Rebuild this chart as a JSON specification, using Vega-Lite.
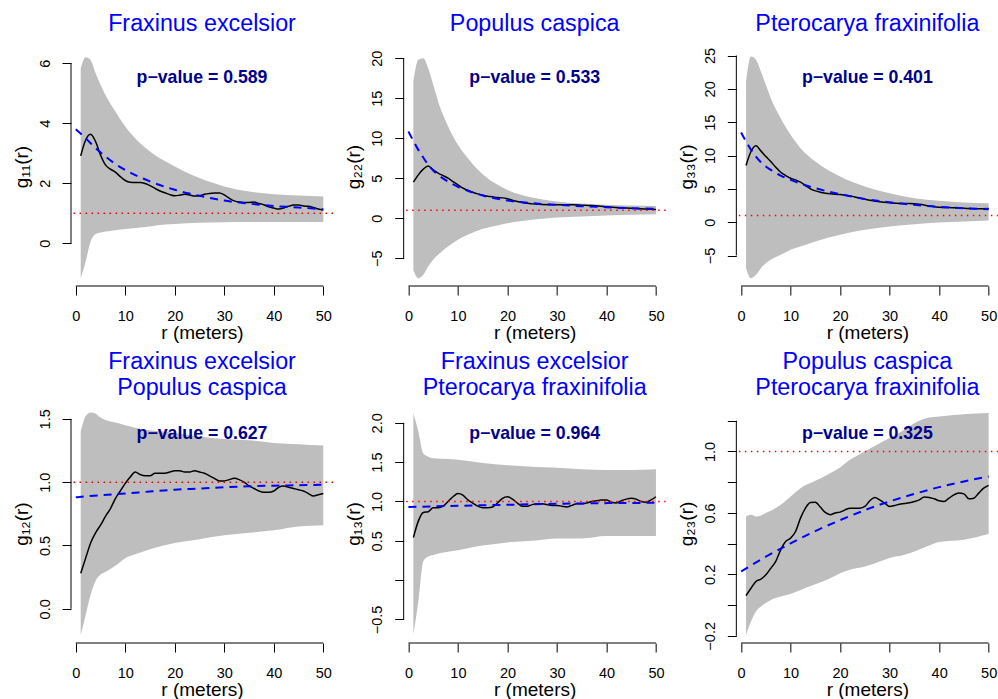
{
  "$schema": "https://vega.github.io/schema/vega-lite/v6.json",
  "padding": {"left": 12, "top": 11, "right": 0, "bottom": 0},
  "background": "white",
  "columns": 3,
  "spacing": {"row": 118, "column": 70.67},
  "bounds": "flush",
  "datasets": {
    "e1": [{"r":1,"lo":-1.17,"hi":5.83},{"r":2,"lo":-0.61,"hi":6.2},{"r":3,"lo":0.06,"hi":6.11},{"r":4,"lo":0.31,"hi":5.67},{"r":5,"lo":0.36,"hi":5.28},{"r":6,"lo":0.39,"hi":4.94},{"r":7,"lo":0.41,"hi":4.65},{"r":8,"lo":0.43,"hi":4.39},{"r":10,"lo":0.47,"hi":3.89},{"r":12,"lo":0.51,"hi":3.5},{"r":15,"lo":0.56,"hi":3.06},{"r":18,"lo":0.62,"hi":2.74},{"r":20,"lo":0.64,"hi":2.56},{"r":25,"lo":0.68,"hi":2.17},{"r":30,"lo":0.7,"hi":1.89},{"r":35,"lo":0.71,"hi":1.72},{"r":40,"lo":0.71,"hi":1.63},{"r":45,"lo":0.71,"hi":1.59},{"r":50,"lo":0.71,"hi":1.56}],
    "o1": [{"r":1,"g":2.91},{"r":2,"g":3.44},{"r":3,"g":3.63},{"r":4,"g":3.39},{"r":5,"g":2.94},{"r":6,"g":2.61},{"r":7,"g":2.47},{"r":8,"g":2.37},{"r":9,"g":2.22},{"r":10,"g":2.09},{"r":11,"g":2.03},{"r":12,"g":2.02},{"r":13,"g":2.02},{"r":14,"g":1.99},{"r":15,"g":1.92},{"r":16,"g":1.83},{"r":17,"g":1.74},{"r":18,"g":1.68},{"r":19,"g":1.62},{"r":20,"g":1.58},{"r":21,"g":1.6},{"r":22,"g":1.63},{"r":23,"g":1.61},{"r":24,"g":1.57},{"r":25,"g":1.58},{"r":26,"g":1.63},{"r":27,"g":1.66},{"r":28,"g":1.67},{"r":29,"g":1.67},{"r":30,"g":1.61},{"r":31,"g":1.5},{"r":32,"g":1.41},{"r":33,"g":1.37},{"r":34,"g":1.36},{"r":35,"g":1.36},{"r":36,"g":1.37},{"r":37,"g":1.32},{"r":38,"g":1.28},{"r":39,"g":1.21},{"r":40,"g":1.17},{"r":41,"g":1.14},{"r":42,"g":1.17},{"r":43,"g":1.23},{"r":44,"g":1.27},{"r":45,"g":1.27},{"r":46,"g":1.24},{"r":47,"g":1.23},{"r":48,"g":1.19},{"r":49,"g":1.14},{"r":50,"g":1.11}],
    "f1": [{"r":0,"g":3.8},{"r":2,"g":3.5},{"r":4,"g":3.17},{"r":6,"g":2.89},{"r":8,"g":2.64},{"r":10,"g":2.44},{"r":15,"g":2.06},{"r":20,"g":1.78},{"r":25,"g":1.58},{"r":30,"g":1.42},{"r":35,"g":1.32},{"r":40,"g":1.24},{"r":45,"g":1.19},{"r":50,"g":1.13}],
    "e2": [{"r":1,"lo":-6.46,"hi":17.1},{"r":2,"lo":-7.5,"hi":19.8},{"r":3,"lo":-7.08,"hi":20.0},{"r":4,"lo":-6.04,"hi":18.75},{"r":5,"lo":-5.2,"hi":16.7},{"r":6,"lo":-4.58,"hi":14.6},{"r":7,"lo":-4.0,"hi":12.9},{"r":8,"lo":-3.54,"hi":11.5},{"r":10,"lo":-2.7,"hi":9.17},{"r":12,"lo":-2.08,"hi":7.5},{"r":15,"lo":-1.33,"hi":5.5},{"r":18,"lo":-0.9,"hi":4.17},{"r":20,"lo":-0.63,"hi":3.54},{"r":25,"lo":-0.2,"hi":2.58},{"r":30,"lo":0.08,"hi":2.08},{"r":35,"lo":0.2,"hi":1.83},{"r":40,"lo":0.33,"hi":1.67},{"r":45,"lo":0.42,"hi":1.58},{"r":50,"lo":0.5,"hi":1.54}],
    "o2": [{"r":1,"g":4.5},{"r":2,"g":5.42},{"r":3,"g":6.13},{"r":4,"g":6.54},{"r":5,"g":6.04},{"r":6,"g":5.63},{"r":7,"g":5.33},{"r":8,"g":5.0},{"r":9,"g":4.58},{"r":10,"g":4.17},{"r":11,"g":3.75},{"r":12,"g":3.5},{"r":13,"g":3.25},{"r":14,"g":3.04},{"r":15,"g":2.88},{"r":16,"g":2.75},{"r":17,"g":2.67},{"r":18,"g":2.58},{"r":19,"g":2.54},{"r":20,"g":2.42},{"r":21,"g":2.25},{"r":22,"g":2.08},{"r":23,"g":1.96},{"r":24,"g":1.88},{"r":25,"g":1.79},{"r":27,"g":1.71},{"r":30,"g":1.67},{"r":33,"g":1.67},{"r":35,"g":1.63},{"r":37,"g":1.58},{"r":40,"g":1.42},{"r":43,"g":1.29},{"r":45,"g":1.25},{"r":47,"g":1.17},{"r":50,"g":1.08}],
    "f2": [{"r":0,"g":10.83},{"r":1,"g":9.67},{"r":2,"g":8.54},{"r":3,"g":7.58},{"r":4,"g":6.67},{"r":5,"g":5.96},{"r":6,"g":5.42},{"r":8,"g":4.58},{"r":10,"g":3.92},{"r":12,"g":3.42},{"r":15,"g":2.83},{"r":20,"g":2.21},{"r":25,"g":1.88},{"r":30,"g":1.67},{"r":35,"g":1.5},{"r":40,"g":1.38},{"r":45,"g":1.25},{"r":50,"g":1.17}],
    "e3": [{"r":1,"lo":-6.9,"hi":21.1},{"r":2,"lo":-8.4,"hi":24.85},{"r":3,"lo":-7.9,"hi":24.35},{"r":4,"lo":-6.9,"hi":22.6},{"r":5,"lo":-6.15,"hi":20.6},{"r":6,"lo":-5.65,"hi":18.6},{"r":8,"lo":-4.9,"hi":15.6},{"r":10,"lo":-4.15,"hi":13.1},{"r":12,"lo":-3.65,"hi":11.1},{"r":15,"lo":-2.9,"hi":9.1},{"r":20,"lo":-1.9,"hi":6.85},{"r":25,"lo":-1.15,"hi":5.35},{"r":30,"lo":-0.65,"hi":4.35},{"r":35,"lo":-0.3,"hi":3.6},{"r":40,"lo":-0.05,"hi":3.2},{"r":45,"lo":0.1,"hi":2.95},{"r":50,"lo":0.25,"hi":2.85}],
    "o3": [{"r":1,"g":8.5},{"r":2,"g":10.6},{"r":3,"g":11.45},{"r":4,"g":10.7},{"r":5,"g":9.85},{"r":6,"g":9.1},{"r":7,"g":8.25},{"r":8,"g":7.5},{"r":9,"g":7.0},{"r":10,"g":6.6},{"r":11,"g":6.35},{"r":12,"g":6.0},{"r":13,"g":5.5},{"r":14,"g":5.0},{"r":15,"g":4.7},{"r":16,"g":4.5},{"r":17,"g":4.35},{"r":18,"g":4.25},{"r":20,"g":4.15},{"r":22,"g":3.95},{"r":24,"g":3.6},{"r":26,"g":3.3},{"r":28,"g":3.05},{"r":30,"g":2.9},{"r":32,"g":2.8},{"r":34,"g":2.8},{"r":36,"g":2.7},{"r":38,"g":2.45},{"r":40,"g":2.25},{"r":42,"g":2.2},{"r":44,"g":2.15},{"r":46,"g":2.05},{"r":48,"g":2.0},{"r":50,"g":2.05}],
    "f3": [{"r":0,"g":13.45},{"r":1,"g":12.1},{"r":2,"g":10.85},{"r":3,"g":9.85},{"r":4,"g":9.0},{"r":5,"g":8.35},{"r":6,"g":7.85},{"r":8,"g":7.0},{"r":10,"g":6.35},{"r":12,"g":5.8},{"r":15,"g":5.1},{"r":20,"g":4.2},{"r":25,"g":3.5},{"r":30,"g":3.0},{"r":35,"g":2.6},{"r":40,"g":2.3},{"r":45,"g":2.1},{"r":50,"g":1.95}],
    "e4": [{"r":1,"lo":-0.205,"hi":1.4},{"r":2,"lo":-0.05,"hi":1.52},{"r":3,"lo":0.11,"hi":1.55},{"r":4,"lo":0.22,"hi":1.54},{"r":5,"lo":0.27,"hi":1.51},{"r":6,"lo":0.29,"hi":1.49},{"r":8,"lo":0.34,"hi":1.47},{"r":10,"lo":0.4,"hi":1.45},{"r":12,"lo":0.43,"hi":1.43},{"r":15,"lo":0.47,"hi":1.41},{"r":20,"lo":0.52,"hi":1.39},{"r":25,"lo":0.55,"hi":1.36},{"r":30,"lo":0.58,"hi":1.34},{"r":35,"lo":0.6,"hi":1.33},{"r":40,"lo":0.62,"hi":1.31},{"r":45,"lo":0.65,"hi":1.3},{"r":50,"lo":0.66,"hi":1.29}],
    "o4": [{"r":1,"g":0.28},{"r":2,"g":0.4},{"r":3,"g":0.52},{"r":4,"g":0.6},{"r":5,"g":0.66},{"r":6,"g":0.73},{"r":7,"g":0.79},{"r":8,"g":0.87},{"r":9,"g":0.93},{"r":10,"g":0.99},{"r":11,"g":1.04},{"r":12,"g":1.08},{"r":13,"g":1.06},{"r":14,"g":1.05},{"r":15,"g":1.05},{"r":16,"g":1.07},{"r":17,"g":1.07},{"r":18,"g":1.07},{"r":19,"g":1.08},{"r":20,"g":1.09},{"r":21,"g":1.09},{"r":22,"g":1.08},{"r":23,"g":1.08},{"r":24,"g":1.09},{"r":25,"g":1.08},{"r":26,"g":1.07},{"r":27,"g":1.05},{"r":28,"g":1.03},{"r":29,"g":1.01},{"r":30,"g":1.01},{"r":31,"g":1.02},{"r":32,"g":1.03},{"r":33,"g":1.02},{"r":34,"g":1.0},{"r":35,"g":0.97},{"r":36,"g":0.95},{"r":37,"g":0.93},{"r":38,"g":0.92},{"r":39,"g":0.92},{"r":40,"g":0.93},{"r":41,"g":0.96},{"r":42,"g":0.97},{"r":43,"g":0.96},{"r":44,"g":0.95},{"r":45,"g":0.94},{"r":46,"g":0.93},{"r":47,"g":0.91},{"r":48,"g":0.89},{"r":49,"g":0.9},{"r":50,"g":0.91}],
    "f4": [{"r":0,"g":0.88},{"r":5,"g":0.897},{"r":10,"g":0.91},{"r":15,"g":0.926},{"r":20,"g":0.94},{"r":25,"g":0.95},{"r":30,"g":0.96},{"r":35,"g":0.968},{"r":40,"g":0.972},{"r":45,"g":0.976},{"r":50,"g":0.98}],
    "e5": [{"r":1,"lo":-0.69,"hi":2.12},{"r":2,"lo":-0.27,"hi":1.89},{"r":3,"lo":0.24,"hi":1.61},{"r":4,"lo":0.3,"hi":1.57},{"r":5,"lo":0.32,"hi":1.55},{"r":8,"lo":0.36,"hi":1.54},{"r":10,"lo":0.38,"hi":1.53},{"r":15,"lo":0.44,"hi":1.49},{"r":20,"lo":0.48,"hi":1.46},{"r":25,"lo":0.5,"hi":1.44},{"r":30,"lo":0.53,"hi":1.43},{"r":35,"lo":0.53,"hi":1.41},{"r":40,"lo":0.56,"hi":1.4},{"r":45,"lo":0.56,"hi":1.4},{"r":50,"lo":0.56,"hi":1.41}],
    "o5": [{"r":1,"g":0.54},{"r":2,"g":0.75},{"r":3,"g":0.86},{"r":4,"g":0.87},{"r":5,"g":0.92},{"r":6,"g":0.92},{"r":7,"g":0.94},{"r":8,"g":1.0},{"r":9,"g":1.06},{"r":10,"g":1.1},{"r":11,"g":1.08},{"r":12,"g":1.02},{"r":13,"g":0.98},{"r":14,"g":0.94},{"r":15,"g":0.92},{"r":16,"g":0.92},{"r":17,"g":0.93},{"r":18,"g":0.98},{"r":19,"g":1.04},{"r":20,"g":1.06},{"r":21,"g":1.03},{"r":22,"g":0.98},{"r":23,"g":0.94},{"r":24,"g":0.94},{"r":25,"g":0.96},{"r":26,"g":0.97},{"r":27,"g":0.97},{"r":28,"g":0.96},{"r":29,"g":0.95},{"r":30,"g":0.95},{"r":31,"g":0.94},{"r":32,"g":0.93},{"r":33,"g":0.95},{"r":34,"g":0.97},{"r":35,"g":0.97},{"r":36,"g":0.98},{"r":37,"g":1.0},{"r":38,"g":1.01},{"r":39,"g":1.02},{"r":40,"g":1.02},{"r":41,"g":0.99},{"r":42,"g":0.98},{"r":43,"g":1.01},{"r":44,"g":1.03},{"r":45,"g":1.04},{"r":46,"g":1.03},{"r":47,"g":1.0},{"r":48,"g":0.99},{"r":49,"g":1.02},{"r":50,"g":1.06}],
    "f5": [{"r":0,"g":0.93},{"r":10,"g":0.945},{"r":20,"g":0.958},{"r":30,"g":0.97},{"r":40,"g":0.979},{"r":50,"g":0.983}],
    "e6": [{"r":1,"lo":-0.194,"hi":0.577},{"r":2,"lo":-0.107,"hi":0.588},{"r":3,"lo":-0.042,"hi":0.577},{"r":4,"lo":-0.009,"hi":0.583},{"r":5,"lo":0.013,"hi":0.6},{"r":6,"lo":0.034,"hi":0.614},{"r":8,"lo":0.056,"hi":0.653},{"r":10,"lo":0.073,"hi":0.707},{"r":12,"lo":0.099,"hi":0.761},{"r":15,"lo":0.136,"hi":0.809},{"r":18,"lo":0.175,"hi":0.859},{"r":20,"lo":0.208,"hi":0.896},{"r":22,"lo":0.23,"hi":0.946},{"r":25,"lo":0.251,"hi":1.0},{"r":28,"lo":0.284,"hi":1.054},{"r":30,"lo":0.306,"hi":1.087},{"r":33,"lo":0.327,"hi":1.141},{"r":35,"lo":0.349,"hi":1.184},{"r":38,"lo":0.388,"hi":1.221},{"r":40,"lo":0.41,"hi":1.228},{"r":45,"lo":0.425,"hi":1.243},{"r":50,"lo":0.462,"hi":1.25}],
    "o6": [{"r":1,"g":0.062},{"r":2,"g":0.11},{"r":3,"g":0.154},{"r":4,"g":0.169},{"r":5,"g":0.197},{"r":6,"g":0.24},{"r":7,"g":0.284},{"r":8,"g":0.36},{"r":9,"g":0.414},{"r":10,"g":0.436},{"r":11,"g":0.479},{"r":12,"g":0.566},{"r":13,"g":0.631},{"r":14,"g":0.668},{"r":15,"g":0.67},{"r":16,"g":0.638},{"r":17,"g":0.603},{"r":18,"g":0.588},{"r":19,"g":0.6},{"r":20,"g":0.605},{"r":21,"g":0.62},{"r":22,"g":0.631},{"r":23,"g":0.631},{"r":24,"g":0.631},{"r":25,"g":0.642},{"r":26,"g":0.679},{"r":27,"g":0.701},{"r":28,"g":0.685},{"r":29,"g":0.664},{"r":30,"g":0.642},{"r":31,"g":0.648},{"r":32,"g":0.657},{"r":33,"g":0.661},{"r":34,"g":0.666},{"r":35,"g":0.674},{"r":36,"g":0.685},{"r":37,"g":0.703},{"r":38,"g":0.701},{"r":39,"g":0.692},{"r":40,"g":0.679},{"r":41,"g":0.674},{"r":42,"g":0.696},{"r":43,"g":0.718},{"r":44,"g":0.729},{"r":45,"g":0.724},{"r":46,"g":0.692},{"r":47,"g":0.696},{"r":48,"g":0.729},{"r":49,"g":0.761},{"r":50,"g":0.779}],
    "f6": [{"r":0,"g":0.219},{"r":5,"g":0.315},{"r":10,"g":0.402},{"r":15,"g":0.482},{"r":20,"g":0.553},{"r":25,"g":0.618},{"r":30,"g":0.675},{"r":35,"g":0.724},{"r":40,"g":0.768},{"r":45,"g":0.805},{"r":50,"g":0.837}]
  },
  "concat": [
    {
      "width": 262, "height": 239,
      "title": {"text": "Fraxinus excelsior", "offset": 11.2},
      "layer": [
        {"data": {"name": "e1"}, "mark": {"type": "area", "color": "#BEBEBE", "interpolate": "monotone"},
         "encoding": {
           "x": {"field": "r", "type": "quantitative", "scale": {"domain": [-0.96, 51.96], "nice": false, "zero": false}, "axis": {"values": [0,10,20,30,40,50], "tickCount": 50, "format": "d", "title": "r (meters)", "titleFontWeight": "normal", "labelOverlap": false}},
           "y": {"field": "lo", "type": "quantitative", "scale": {"domain": [-1.427, 6.54], "nice": false, "zero": false}, "axis": {"values": [0,2,4,6], "tickCount": 50, "format": "d", "title": "g₁₁(r)", "titleFontWeight": "normal", "labelOverlap": false}},
           "y2": {"field": "hi"}}},
        {"data": {"name": "o1"}, "mark": {"type": "line", "color": "#000000", "strokeWidth": 1.5, "interpolate": "monotone"},
         "encoding": {"x": {"field": "r", "type": "quantitative"}, "y": {"field": "g", "type": "quantitative"}}},
        {"data": {"name": "f1"}, "mark": {"type": "line", "color": "#0000FF", "strokeWidth": 2, "strokeDash": [8, 6], "interpolate": "monotone"},
         "encoding": {"x": {"field": "r", "type": "quantitative"}, "y": {"field": "g", "type": "quantitative"}}},
        {"data": {"values": [{}]}, "mark": {"type": "rule", "color": "#FF0000", "strokeWidth": 1.5, "strokeDash": [1.5, 4.5]}, "encoding": {"y": {"datum": 1}}},
        {"data": {"values": [{"label": "p−value = 0.589"}]}, "mark": {"type": "text", "font": "Liberation Sans", "fontSize": 17.7, "fontWeight": "bold", "color": "#00008B", "align": "center", "baseline": "alphabetic"},
         "encoding": {"x": {"datum": 25.5}, "y": {"datum": 5.35}, "text": {"field": "label"}}},
        {"data": {"values": [{}]}, "mark": {"type": "rule", "color": "#000000", "strokeWidth": 1}, "encoding": {"x": {"datum": 0}, "x2": {"datum": 50}, "y": {"datum": -1.427}}},
        {"data": {"values": [{}]}, "mark": {"type": "rule", "color": "#000000", "strokeWidth": 1}, "encoding": {"x": {"datum": -0.96}, "y": {"datum": 0}, "y2": {"datum": 6}}}
      ]
    },
    {
      "width": 262, "height": 239,
      "title": {"text": "Populus caspica", "offset": 11.2},
      "layer": [
        {"data": {"name": "e2"}, "mark": {"type": "area", "color": "#BEBEBE", "interpolate": "monotone"},
         "encoding": {
           "x": {"field": "r", "type": "quantitative", "scale": {"domain": [-0.96, 51.96], "nice": false, "zero": false}, "axis": {"values": [0,10,20,30,40,50], "tickCount": 50, "format": "d", "title": "r (meters)", "titleFontWeight": "normal", "labelOverlap": false}},
           "y": {"field": "lo", "type": "quantitative", "scale": {"domain": [-8.475, 21.4], "nice": false, "zero": false}, "axis": {"values": [-5,0,5,10,15,20], "tickCount": 50, "format": "d", "title": "g₂₂(r)", "titleFontWeight": "normal", "labelOverlap": false}},
           "y2": {"field": "hi"}}},
        {"data": {"name": "o2"}, "mark": {"type": "line", "color": "#000000", "strokeWidth": 1.5, "interpolate": "monotone"},
         "encoding": {"x": {"field": "r", "type": "quantitative"}, "y": {"field": "g", "type": "quantitative"}}},
        {"data": {"name": "f2"}, "mark": {"type": "line", "color": "#0000FF", "strokeWidth": 2, "strokeDash": [8, 6], "interpolate": "monotone"},
         "encoding": {"x": {"field": "r", "type": "quantitative"}, "y": {"field": "g", "type": "quantitative"}}},
        {"data": {"values": [{}]}, "mark": {"type": "rule", "color": "#FF0000", "strokeWidth": 1.5, "strokeDash": [1.5, 4.5]}, "encoding": {"y": {"datum": 1}}},
        {"data": {"values": [{"label": "p−value = 0.533"}]}, "mark": {"type": "text", "font": "Liberation Sans", "fontSize": 17.7, "fontWeight": "bold", "color": "#00008B", "align": "center", "baseline": "alphabetic"},
         "encoding": {"x": {"datum": 25.5}, "y": {"datum": 16.94}, "text": {"field": "label"}}},
        {"data": {"values": [{}]}, "mark": {"type": "rule", "color": "#000000", "strokeWidth": 1}, "encoding": {"x": {"datum": 0}, "x2": {"datum": 50}, "y": {"datum": -8.475}}},
        {"data": {"values": [{}]}, "mark": {"type": "rule", "color": "#000000", "strokeWidth": 1}, "encoding": {"x": {"datum": -0.96}, "y": {"datum": -5}, "y2": {"datum": 20}}}
      ]
    },
    {
      "width": 262, "height": 239,
      "title": {"text": "Pterocarya fraxinifolia", "offset": 11.2},
      "layer": [
        {"data": {"name": "e3"}, "mark": {"type": "area", "color": "#BEBEBE", "interpolate": "monotone"},
         "encoding": {
           "x": {"field": "r", "type": "quantitative", "scale": {"domain": [-0.96, 51.96], "nice": false, "zero": false}, "axis": {"values": [0,10,20,30,40,50], "tickCount": 50, "format": "d", "title": "r (meters)", "titleFontWeight": "normal", "labelOverlap": false}},
           "y": {"field": "lo", "type": "quantitative", "scale": {"domain": [-9.57, 26.28], "nice": false, "zero": false}, "axis": {"values": [-5,0,5,10,15,20,25], "tickCount": 50, "format": "d", "title": "g₃₃(r)", "titleFontWeight": "normal", "labelOverlap": false}},
           "y2": {"field": "hi"}}},
        {"data": {"name": "o3"}, "mark": {"type": "line", "color": "#000000", "strokeWidth": 1.5, "interpolate": "monotone"},
         "encoding": {"x": {"field": "r", "type": "quantitative"}, "y": {"field": "g", "type": "quantitative"}}},
        {"data": {"name": "f3"}, "mark": {"type": "line", "color": "#0000FF", "strokeWidth": 2, "strokeDash": [8, 6], "interpolate": "monotone"},
         "encoding": {"x": {"field": "r", "type": "quantitative"}, "y": {"field": "g", "type": "quantitative"}}},
        {"data": {"values": [{}]}, "mark": {"type": "rule", "color": "#FF0000", "strokeWidth": 1.5, "strokeDash": [1.5, 4.5]}, "encoding": {"y": {"datum": 1}}},
        {"data": {"values": [{"label": "p−value = 0.401"}]}, "mark": {"type": "text", "font": "Liberation Sans", "fontSize": 17.7, "fontWeight": "bold", "color": "#00008B", "align": "center", "baseline": "alphabetic"},
         "encoding": {"x": {"datum": 25.5}, "y": {"datum": 20.93}, "text": {"field": "label"}}},
        {"data": {"values": [{}]}, "mark": {"type": "rule", "color": "#000000", "strokeWidth": 1}, "encoding": {"x": {"datum": 0}, "x2": {"datum": 50}, "y": {"datum": -9.57}}},
        {"data": {"values": [{}]}, "mark": {"type": "rule", "color": "#000000", "strokeWidth": 1}, "encoding": {"x": {"datum": -0.96}, "y": {"datum": -5}, "y2": {"datum": 25}}}
      ]
    },
    {
      "width": 262, "height": 239,
      "title": {"text": ["Fraxinus excelsior\u00a0", "\u00a0Populus caspica"], "offset": 3.5, "lineHeight": 26.7},
      "layer": [
        {"data": {"name": "e4"}, "mark": {"type": "area", "color": "#BEBEBE", "interpolate": "monotone"},
         "encoding": {
           "x": {"field": "r", "type": "quantitative", "scale": {"domain": [-0.96, 51.96], "nice": false, "zero": false}, "axis": {"values": [0,10,20,30,40,50], "tickCount": 50, "format": "d", "title": "r (meters)", "titleFontWeight": "normal", "labelOverlap": false}},
           "y": {"field": "lo", "type": "quantitative", "scale": {"domain": [-0.27, 1.617], "nice": false, "zero": false}, "axis": {"values": [0,0.5,1,1.5], "tickCount": 50, "format": ".1f", "title": "g₁₂(r)", "titleFontWeight": "normal", "labelOverlap": false}},
           "y2": {"field": "hi"}}},
        {"data": {"name": "o4"}, "mark": {"type": "line", "color": "#000000", "strokeWidth": 1.5, "interpolate": "monotone"},
         "encoding": {"x": {"field": "r", "type": "quantitative"}, "y": {"field": "g", "type": "quantitative"}}},
        {"data": {"name": "f4"}, "mark": {"type": "line", "color": "#0000FF", "strokeWidth": 2, "strokeDash": [8, 6], "interpolate": "monotone"},
         "encoding": {"x": {"field": "r", "type": "quantitative"}, "y": {"field": "g", "type": "quantitative"}}},
        {"data": {"values": [{}]}, "mark": {"type": "rule", "color": "#FF0000", "strokeWidth": 1.5, "strokeDash": [1.5, 4.5]}, "encoding": {"y": {"datum": 1}}},
        {"data": {"values": [{"label": "p−value = 0.627"}]}, "mark": {"type": "text", "font": "Liberation Sans", "fontSize": 17.7, "fontWeight": "bold", "color": "#00008B", "align": "center", "baseline": "alphabetic"},
         "encoding": {"x": {"datum": 25.5}, "y": {"datum": 1.342}, "text": {"field": "label"}}},
        {"data": {"values": [{}]}, "mark": {"type": "rule", "color": "#000000", "strokeWidth": 1}, "encoding": {"x": {"datum": 0}, "x2": {"datum": 50}, "y": {"datum": -0.27}}},
        {"data": {"values": [{}]}, "mark": {"type": "rule", "color": "#000000", "strokeWidth": 1}, "encoding": {"x": {"datum": -0.96}, "y": {"datum": 0}, "y2": {"datum": 1.5}}}
      ]
    },
    {
      "width": 262, "height": 239,
      "title": {"text": ["Fraxinus excelsior\u00a0", "\u00a0Pterocarya fraxinifolia"], "offset": 3.5, "lineHeight": 26.7},
      "layer": [
        {"data": {"name": "e5"}, "mark": {"type": "area", "color": "#BEBEBE", "interpolate": "monotone"},
         "encoding": {
           "x": {"field": "r", "type": "quantitative", "scale": {"domain": [-0.96, 51.96], "nice": false, "zero": false}, "axis": {"values": [0,10,20,30,40,50], "tickCount": 50, "format": "d", "title": "r (meters)", "titleFontWeight": "normal", "labelOverlap": false}},
           "y": {"field": "lo", "type": "quantitative", "scale": {"domain": [-0.799, 2.239], "nice": false, "zero": false}, "axis": {"values": [-0.5,0,0.5,1,1.5,2], "tickCount": 50, "format": ".1f", "labelExpr": "abs(datum.value) < 0.01 ? '' : datum.label", "title": "g₁₃(r)", "titleFontWeight": "normal", "labelOverlap": false}},
           "y2": {"field": "hi"}}},
        {"data": {"name": "o5"}, "mark": {"type": "line", "color": "#000000", "strokeWidth": 1.5, "interpolate": "monotone"},
         "encoding": {"x": {"field": "r", "type": "quantitative"}, "y": {"field": "g", "type": "quantitative"}}},
        {"data": {"name": "f5"}, "mark": {"type": "line", "color": "#0000FF", "strokeWidth": 2, "strokeDash": [8, 6], "interpolate": "monotone"},
         "encoding": {"x": {"field": "r", "type": "quantitative"}, "y": {"field": "g", "type": "quantitative"}}},
        {"data": {"values": [{}]}, "mark": {"type": "rule", "color": "#FF0000", "strokeWidth": 1.5, "strokeDash": [1.5, 4.5]}, "encoding": {"y": {"datum": 1}}},
        {"data": {"values": [{"label": "p−value = 0.964"}]}, "mark": {"type": "text", "font": "Liberation Sans", "fontSize": 17.7, "fontWeight": "bold", "color": "#00008B", "align": "center", "baseline": "alphabetic"},
         "encoding": {"x": {"datum": 25.5}, "y": {"datum": 1.797}, "text": {"field": "label"}}},
        {"data": {"values": [{}]}, "mark": {"type": "rule", "color": "#000000", "strokeWidth": 1}, "encoding": {"x": {"datum": 0}, "x2": {"datum": 50}, "y": {"datum": -0.799}}},
        {"data": {"values": [{}]}, "mark": {"type": "rule", "color": "#000000", "strokeWidth": 1}, "encoding": {"x": {"datum": -0.96}, "y": {"datum": -0.5}, "y2": {"datum": 2}}}
      ]
    },
    {
      "width": 262, "height": 239,
      "title": {"text": ["Populus caspica\u00a0", "\u00a0Pterocarya fraxinifolia"], "offset": 3.5, "lineHeight": 26.7},
      "layer": [
        {"data": {"name": "e6"}, "mark": {"type": "area", "color": "#BEBEBE", "interpolate": "monotone"},
         "encoding": {
           "x": {"field": "r", "type": "quantitative", "scale": {"domain": [-0.96, 51.96], "nice": false, "zero": false}, "axis": {"values": [0,10,20,30,40,50], "tickCount": 50, "format": "d", "title": "r (meters)", "titleFontWeight": "normal", "labelOverlap": false}},
           "y": {"field": "lo", "type": "quantitative", "scale": {"domain": [-0.2467, 1.309], "nice": false, "zero": false}, "axis": {"values": [-0.2,0,0.2,0.4,0.6,0.8,1,1.2], "tickCount": 50, "format": ".1f", "labelExpr": "(abs(datum.value + 0.2) < 0.01 || abs(datum.value - 0.2) < 0.01 || abs(datum.value - 0.6) < 0.01 || abs(datum.value - 1) < 0.01) ? datum.label : ''", "title": "g₂₃(r)", "titleFontWeight": "normal", "labelOverlap": false}},
           "y2": {"field": "hi"}}},
        {"data": {"name": "o6"}, "mark": {"type": "line", "color": "#000000", "strokeWidth": 1.5, "interpolate": "monotone"},
         "encoding": {"x": {"field": "r", "type": "quantitative"}, "y": {"field": "g", "type": "quantitative"}}},
        {"data": {"name": "f6"}, "mark": {"type": "line", "color": "#0000FF", "strokeWidth": 2, "strokeDash": [8, 6], "interpolate": "monotone"},
         "encoding": {"x": {"field": "r", "type": "quantitative"}, "y": {"field": "g", "type": "quantitative"}}},
        {"data": {"values": [{}]}, "mark": {"type": "rule", "color": "#FF0000", "strokeWidth": 1.5, "strokeDash": [1.5, 4.5]}, "encoding": {"y": {"datum": 1}}},
        {"data": {"values": [{"label": "p−value = 0.325"}]}, "mark": {"type": "text", "font": "Liberation Sans", "fontSize": 17.7, "fontWeight": "bold", "color": "#00008B", "align": "center", "baseline": "alphabetic"},
         "encoding": {"x": {"datum": 25.5}, "y": {"datum": 1.083}, "text": {"field": "label"}}},
        {"data": {"values": [{}]}, "mark": {"type": "rule", "color": "#000000", "strokeWidth": 1}, "encoding": {"x": {"datum": 0}, "x2": {"datum": 50}, "y": {"datum": -0.2467}}},
        {"data": {"values": [{}]}, "mark": {"type": "rule", "color": "#000000", "strokeWidth": 1}, "encoding": {"x": {"datum": -0.96}, "y": {"datum": -0.2}, "y2": {"datum": 1.2}}}
      ]
    }
  ],
  "config": {
    "view": {"stroke": null},
    "font": "Liberation Sans",
    "axis": {"grid": false, "domain": false, "tickColor": "#000000", "tickSize": 9, "tickWidth": 1, "labelColor": "#000000", "labelFont": "Liberation Sans", "labelFontSize": 14.5, "titleFont": "Liberation Sans", "titleFontSize": 19, "titleFontWeight": "normal", "titleColor": "#000000", "labelOverlap": false, "labelFlush": false},
    "axisX": {"labelPadding": 14.5, "titlePadding": 0},
    "axisY": {"labelAngle": -90, "labelAlign": "center", "labelBaseline": "bottom", "labelPadding": 10, "titlePadding": 6},
    "title": {"font": "Liberation Sans", "fontSize": 23.3, "fontWeight": "normal", "color": "#0000FF", "anchor": "middle", "frame": "group", "baseline": "bottom"}
  }
}
